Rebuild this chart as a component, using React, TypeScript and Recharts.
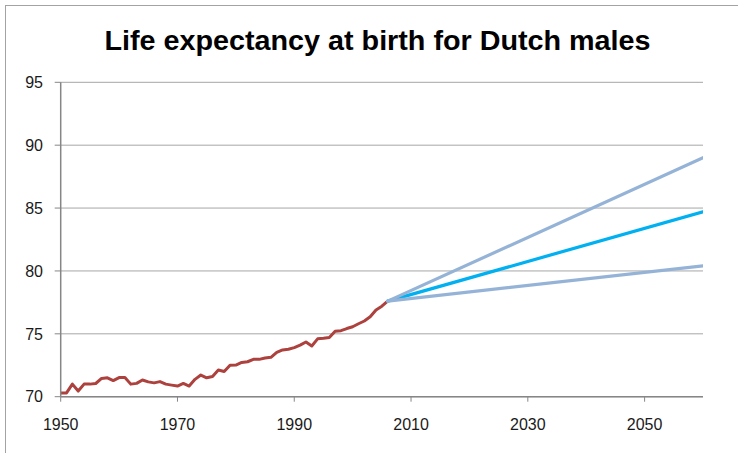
import React from "react";
import { LineChart, Line, XAxis, YAxis, CartesianGrid } from "recharts";

const histYears = [
  1950, 1951, 1952, 1953, 1954, 1955, 1956, 1957, 1958, 1959,
  1960, 1961, 1962, 1963, 1964, 1965, 1966, 1967, 1968, 1969,
  1970, 1971, 1972, 1973, 1974, 1975, 1976, 1977, 1978, 1979,
  1980, 1981, 1982, 1983, 1984, 1985, 1986, 1987, 1988, 1989,
  1990, 1991, 1992, 1993, 1994, 1995, 1996, 1997, 1998, 1999,
  2000, 2001, 2002, 2003, 2004, 2005, 2006,
];
const histValues = [
  70.3, 70.3, 71.0, 70.45, 71.0, 71.0, 71.05, 71.45, 71.5, 71.28,
  71.52, 71.52, 71.0, 71.06, 71.33, 71.18, 71.1, 71.2, 71.0, 70.92,
  70.85, 71.05, 70.85, 71.38, 71.72, 71.5, 71.6, 72.12, 72.0, 72.5,
  72.52, 72.72, 72.78, 72.97, 72.97, 73.08, 73.13, 73.53, 73.72, 73.77,
  73.9, 74.1, 74.35, 74.03, 74.6, 74.64, 74.7, 75.2, 75.25, 75.42,
  75.56, 75.8, 76.02, 76.35, 76.9, 77.2, 77.6,
];
const projYears = [2006, 2060];
const projHigh = [77.6, 89.0];
const projMid = [77.6, 84.7];
const projLow = [77.6, 80.4];

const xTicks = [1950, 1970, 1990, 2010, 2030, 2050];
const yTicks = [70, 75, 80, 85, 90, 95];
const title = "Life expectancy at birth for Dutch males";

type Row = { year: number; hist?: number; high?: number; mid?: number; low?: number };

const rows: Row[] = histYears.map((y, i) => ({ year: y, hist: histValues[i] }));
projYears.forEach((y, i) => {
  let r = rows.find((row) => row.year === y);
  if (!r) {
    r = { year: y };
    rows.push(r);
  }
  r.high = projHigh[i];
  r.mid = projMid[i];
  r.low = projLow[i];
});

const FONT = "'Liberation Sans', Arial, sans-serif";
const tickStyle = { fill: "#1a1a1a", fontSize: 16, fontFamily: FONT };

export default function App() {
  return (
    <div
      style={{
        position: "absolute",
        left: 0,
        top: 0,
        width: 738,
        height: 453,
        overflow: "hidden",
        background: "#ffffff",
      }}
    >
      <div
        style={{
          position: "absolute",
          left: 5,
          top: 5,
          width: 800,
          height: 500,
          border: "1px solid #a3a3a3",
          boxSizing: "border-box",
        }}
      />
      <svg
        width={738}
        height={80}
        style={{ position: "absolute", left: 0, top: 0 }}
      >
        <text
          x={377.5}
          y={50}
          textAnchor="middle"
          fontFamily={FONT}
          fontWeight="bold"
          fontSize={28}
          fill="#000"
          textLength={546}
          lengthAdjust="spacingAndGlyphs"
        >
          {title}
        </text>
      </svg>
      <div style={{ position: "absolute", left: 0, top: 0 }}>
        <LineChart
          width={738}
          height={453}
          data={rows}
          margin={{ top: 82.3, right: 35, bottom: 16.3, left: 10.7 }}
        >
          <CartesianGrid
            horizontal={true}
            vertical={false}
            stroke="#a6a6a6"
            strokeWidth={1}
          />
          <XAxis
            dataKey="year"
            type="number"
            domain={[1950, 2060]}
            ticks={xTicks}
            allowDataOverflow={true}
            height={40}
            stroke="#868686"
            tickSize={5}
            tickMargin={17}
            tick={tickStyle}
            tickLine={{ stroke: "#868686" }}
            axisLine={{ stroke: "#868686", strokeWidth: 1.5 }}
          />
          <YAxis
            type="number"
            domain={[70, 95]}
            ticks={yTicks}
            width={50}
            tickSize={6}
            tickMargin={11.7}
            tick={tickStyle}
            tickLine={{ stroke: "#868686" }}
            axisLine={{ stroke: "#868686", strokeWidth: 1.5 }}
          />
          <Line
            dataKey="hist"
            stroke="#ac413d"
            strokeWidth={3}
            dot={false}
            activeDot={false}
            isAnimationActive={false}
            strokeLinejoin="round"
          />
          <Line
            dataKey="mid"
            stroke="#00b0f0"
            strokeWidth={3.2}
            dot={false}
            activeDot={false}
            connectNulls={true}
            isAnimationActive={false}
            strokeLinecap="round"
          />
          <Line
            dataKey="high"
            stroke="#95b3d7"
            strokeWidth={3.2}
            dot={false}
            activeDot={false}
            connectNulls={true}
            isAnimationActive={false}
            strokeLinecap="round"
          />
          <Line
            dataKey="low"
            stroke="#95b3d7"
            strokeWidth={3.2}
            dot={false}
            activeDot={false}
            connectNulls={true}
            isAnimationActive={false}
            strokeLinecap="round"
          />
        </LineChart>
      </div>
    </div>
  );
}
